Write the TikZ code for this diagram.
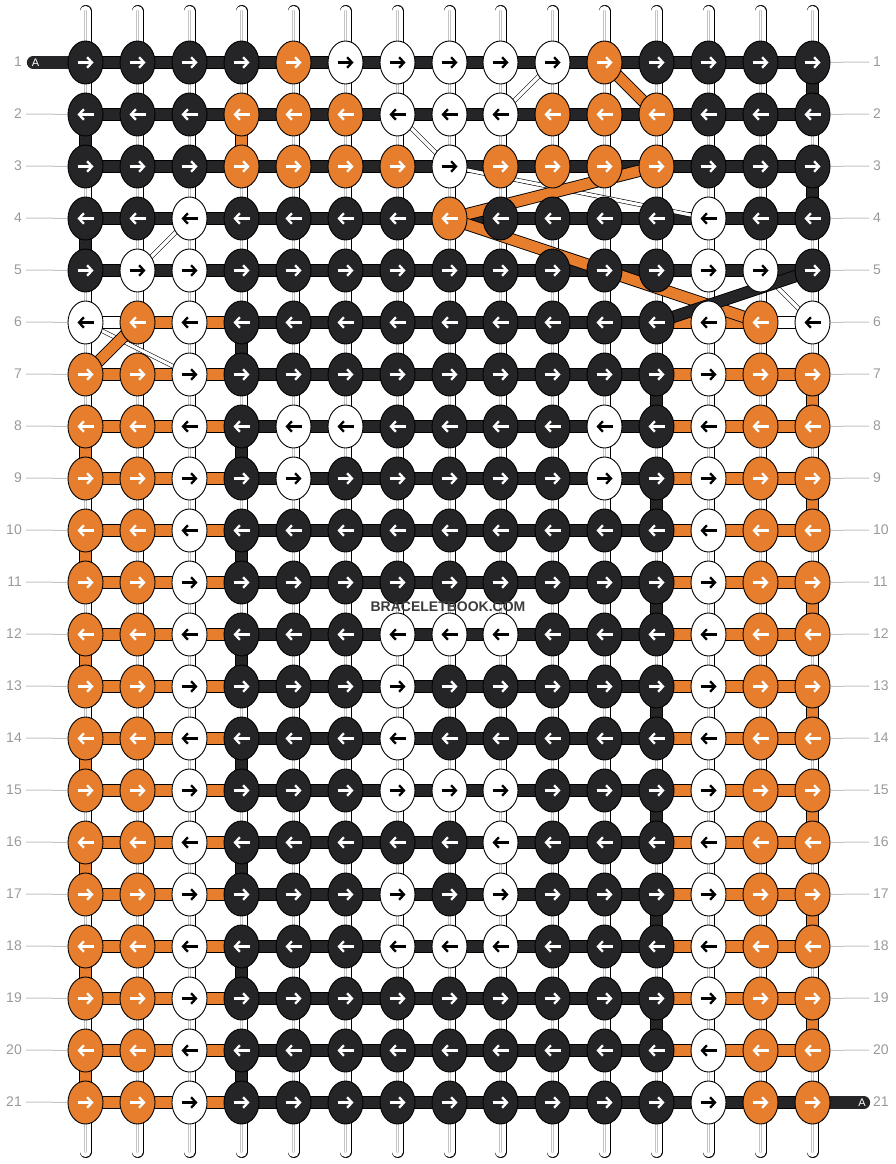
\documentclass[tikz,border=0pt]{standalone}
\usepackage{fontspec}
\setmainfont{Liberation Sans}
\usetikzlibrary{shapes.geometric,arrows.meta}

\definecolor{cB}{HTML}{252528}
\definecolor{cO}{HTML}{E67E2E}
\definecolor{cW}{HTML}{FFFFFF}
\definecolor{lblgray}{HTML}{9A9A9A}
\definecolor{linegray}{HTML}{C4C4C4}
\definecolor{brandgray}{HTML}{3C3C3E}

\pgfdeclarelayer{bg}
\pgfsetlayers{bg,main}

\begin{document}
\begin{tikzpicture}[x=1pt,y=-1pt]
            \tikzset{arrcol/.store in=\arrcol, arrcol=white}
            \tikzstyle{knot}=[ellipse, draw=black, line width=0.9pt, minimum width=35pt, minimum height=43pt, inner sep=0pt]
            \tikzstyle{knotB}=[knot, fill=cB, arrcol=white]
            \tikzstyle{knotO}=[knot, fill=cO, arrcol=white]
            \tikzstyle{knotW}=[knot, fill=cW, arrcol=black]
            \tikzstyle{knotarrow}=[line width=2.3pt, -{Straight Barb[length=4.8pt,width=10.5pt]}]
            \tikzstyle{goR}=[path picture={\draw[knotarrow, draw=\arrcol] ([xshift=-8pt]path picture bounding box.center) -- ([xshift=8pt]path picture bounding box.center);}]
            \tikzstyle{goL}=[path picture={\draw[knotarrow, draw=\arrcol] ([xshift=8pt]path picture bounding box.center) -- ([xshift=-8pt]path picture bounding box.center);}]
            \tikzstyle{rowbar}=[draw=black, line width=0.9pt, double distance=10.5pt]
            \tikzstyle{strandout}=[draw=black, line width=12pt]
            \tikzstyle{strandin}=[draw=white, line width=10.2pt]
            \tikzstyle{strandmid}=[draw=linegray, line width=2.6pt]
            \tikzstyle{strandgap}=[draw=white, line width=1.4pt]
            \tikzstyle{crossthin}=[draw=black, line width=0.6pt, double=white, double distance=3.2pt]
            \tikzstyle{rowlbl}=[text=lblgray, inner sep=0pt, font=\fontsize{14pt}{16pt}\selectfont]
            \tikzstyle{lblline}=[draw=linegray, line width=1pt]
            \useasboundingbox (0,0) rectangle (896,1164);

            % knots, row by row
            \foreach \r/\d/\ks in {
                1/R/{B,B,B,B,O,W,W,W,W,W,O,B,B,B,B},
                2/L/{B,B,B,O,O,O,W,W,W,O,O,O,B,B,B},
                3/R/{B,B,B,O,O,O,O,W,O,O,O,O,B,B,B},
                4/L/{B,B,W,B,B,B,B,O,B,B,B,B,W,B,B},
                5/R/{B,W,W,B,B,B,B,B,B,B,B,B,W,W,B},
                6/L/{W,O,W,B,B,B,B,B,B,B,B,B,W,O,W},
                7/R/{O,O,W,B,B,B,B,B,B,B,B,B,W,O,O},
                8/L/{O,O,W,B,W,W,B,B,B,B,W,B,W,O,O},
                9/R/{O,O,W,B,W,B,B,B,B,B,W,B,W,O,O},
                10/L/{O,O,W,B,B,B,B,B,B,B,B,B,W,O,O},
                11/R/{O,O,W,B,B,B,B,B,B,B,B,B,W,O,O},
                12/L/{O,O,W,B,B,B,W,W,W,B,B,B,W,O,O},
                13/R/{O,O,W,B,B,B,W,B,B,B,B,B,W,O,O},
                14/L/{O,O,W,B,B,B,W,B,B,B,B,B,W,O,O},
                15/R/{O,O,W,B,B,B,W,W,W,B,B,B,W,O,O},
                16/L/{O,O,W,B,B,B,B,B,W,B,B,B,W,O,O},
                17/R/{O,O,W,B,B,B,W,B,W,B,B,B,W,O,O},
                18/L/{O,O,W,B,B,B,W,W,W,B,B,B,W,O,O},
                19/R/{O,O,W,B,B,B,B,B,B,B,B,B,W,O,O},
                20/L/{O,O,W,B,B,B,B,B,B,B,B,B,W,O,O},
                21/R/{O,O,W,B,B,B,B,B,B,B,B,B,W,O,O}}
            {
                \foreach \k [count=\c] in \ks
                    \node[knot\k, go\d] (k\r-\c) at ({round(85+(\c-1)*51.93)+0.5},{62+(\r-1)*52+0.5}) {};
                \node[rowlbl, anchor=east] (ll\r) at (22,{62+(\r-1)*52}) {\r};
                \node[rowlbl, anchor=west] (rl\r) at (873,{62+(\r-1)*52}) {\r};
            }

            % thread ends
            \coordinate (tagL) at (33,62.5);
            \coordinate (tagR) at (864,1102.5);
            \node[text=white, inner sep=0pt, font=\fontsize{11pt}{12pt}\selectfont] (tagLtxt) at (35.5,62.5) {A};
            \node[text=white, inner sep=0pt, font=\fontsize{11pt}{12pt}\selectfont] (tagRtxt) at (862,1102.5) {A};

            \node[text=brandgray, inner sep=0pt, font=\bfseries\fontsize{14pt}{16pt}\selectfont] (brand) at (448,607) {BRACELETBOOK.COM};

            \begin{pgfonlayer}{bg}
                % vertical strings
                \foreach \c in {1,...,15} {
                    \coordinate (top\c) at ({round(85+(\c-1)*51.93)+0.5},11);
                    \coordinate (bot\c) at ({round(85+(\c-1)*51.93)+0.5},1152);
                    \foreach \s in {strandout,strandin,strandmid,strandgap} {
                        \draw[\s, line cap=round] (top\c) -- (k1-\c.center);
                        \draw[\s, line cap=round] (k21-\c.center) -- (bot\c);
                        \foreach \r [evaluate=\r as \rr using int(\r+1)] in {1,...,20}
                            \draw[\s] (k\r-\c.center) -- (k\rr-\c.center);
                    }
                }
                % turns at the edges of each section
                \foreach \c/\r/\t in {1/2/cB, 1/4/cB, 15/1/cB, 15/3/cB, 4/2/cO} {
                    \pgfmathtruncatemacro{\rr}{\r+1}
                    \draw[rowbar, double=\t] (k\r-\c.center) -- (k\rr-\c.center);
                }
                \foreach \r [evaluate=\r as \rr using int(\r+1)] in {8,10,...,20} {
                    \draw[rowbar, double=cO] (k\r-1.center) -- (k\rr-1.center);
                }
                \foreach \r [evaluate=\r as \rr using int(\r+1)] in {6,8,...,20} {
                    \draw[rowbar, double=cB] (k\r-4.center) -- (k\rr-4.center);
                }
                \foreach \r [evaluate=\r as \rr using int(\r+1)] in {7,9,...,19} {
                    \draw[rowbar, double=cB] (k\r-12.center) -- (k\rr-12.center);
                    \draw[rowbar, double=cO] (k\r-15.center) -- (k\rr-15.center);
                }

                % row threads
                \foreach \r/\gs in {
                    1/{B,B,B,B,B,B,B,B,B,B,B,B,B,B},
                    2/{B,B,B,B,B,B,B,B,B,B,B,B,B,B},
                    3/{B,B,B,B,B,B,B,B,B,B,B,B,B,B},
                    4/{B,B,B,B,B,B,B,B,B,B,B,B,B,B},
                    5/{B,B,B,B,B,B,B,B,B,B,B,B,B,B},
                    6/{W,O,O,B,B,B,B,B,B,B,B,O,O,W},
                    7/{O,O,O,B,B,B,B,B,B,B,B,O,O,O},
                    8/{O,O,O,B,B,B,B,B,B,B,B,O,O,O},
                    9/{O,O,O,B,B,B,B,B,B,B,B,O,O,O},
                    10/{O,O,O,B,B,B,B,B,B,B,B,O,O,O},
                    11/{O,O,O,B,B,B,B,B,B,B,B,O,O,O},
                    12/{O,O,O,B,B,B,B,B,B,B,B,O,O,O},
                    13/{O,O,O,B,B,B,B,B,B,B,B,O,O,O},
                    14/{O,O,O,B,B,B,B,B,B,B,B,O,O,O},
                    15/{O,O,O,B,B,B,B,B,B,B,B,O,O,O},
                    16/{O,O,O,B,B,B,B,B,B,B,B,O,O,O},
                    17/{O,O,O,B,B,B,B,B,B,B,B,O,O,O},
                    18/{O,O,O,B,B,B,B,B,B,B,B,O,O,O},
                    19/{O,O,O,B,B,B,B,B,B,B,B,O,O,O},
                    20/{O,O,O,B,B,B,B,B,B,B,B,O,O,O},
                    21/{O,O,O,B,B,B,B,B,B,B,B,B,B,B}}
                {
                    \foreach \g [count=\c, evaluate=\c as \cc using int(\c+1)] in \gs
                        \draw[rowbar, double=c\g] (k\r-\c.center) -- (k\r-\cc.center);
                }
                \draw[cB, line width=12.3pt, line cap=round] (tagL) -- (k1-1.center);
                \draw[cB, line width=12.3pt, line cap=round] (k21-15.center) -- (tagR);

                % row number leaders
                \foreach \r in {2,...,21}
                    \draw[lblline, shorten <=4pt] (ll\r.east) -- (k\r-1);
                \foreach \r in {1,...,20}
                    \draw[lblline, shorten <=4pt] (rl\r.west) -- (k\r-15);

                % threads changing place
                \draw[crossthin] (k1-10.center) -- (k2-9.center);
                \draw[crossthin] (k2-7.center) -- (k3-8.center);
                \draw[crossthin] (k3-8.center) -- (k4-13.center);
                \draw[crossthin] (k4-3.center) -- (k5-2.center);
                \draw[crossthin] (k5-14.center) -- (k6-15.center);
                \draw[crossthin] (k6-1.center) -- (k7-3.center);
                \draw[rowbar, double=cO] (k1-11.center) -- (k2-12.center);
                \draw[rowbar, double=cO] (k3-12.center) -- (k4-8.center);
                \draw[rowbar, double=cO] (k4-8.center) -- (k6-14.center);
                \draw[rowbar, double=cB] (k5-15.center) -- (k6-12.center);
                \draw[rowbar, double=cO] (k6-2.center) -- (k7-1.center);
            \end{pgfonlayer}
        \end{tikzpicture}
\end{document}
